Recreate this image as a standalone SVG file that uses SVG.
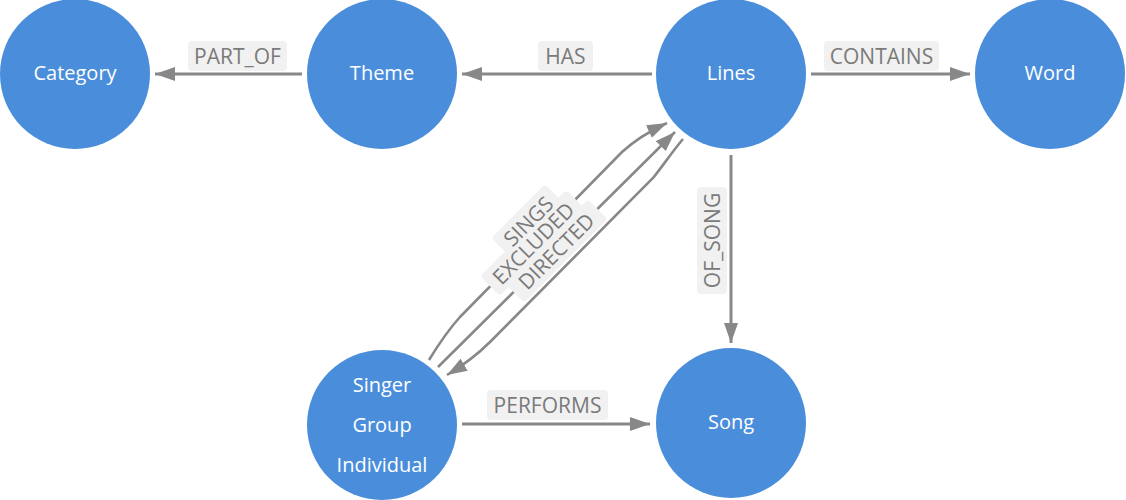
<svg xmlns="http://www.w3.org/2000/svg" width="1126" height="500" viewBox="0 0 1126 500">
<style>
.node{fill:#4a8edb}
.nt{font-family:"Open Sans","Liberation Sans",sans-serif;font-size:20px;fill:#ffffff;text-anchor:middle;dominant-baseline:central}
.edge{fill:none;stroke:#888888;stroke-width:3}
.dedge{fill:none;stroke:#888888;stroke-width:2.6}
.lb{fill:#f1f1f1}
.lt{font-family:"Open Sans","Liberation Sans",sans-serif;font-size:21px;fill:#7a7a7a;text-anchor:middle;dominant-baseline:central}
</style>
<defs>
<marker id="arr" markerUnits="userSpaceOnUse" markerWidth="20" markerHeight="14" refX="20" refY="7" orient="auto" viewBox="0 0 20 14">
<path d="M0,0 L20,7 L0,14 z" fill="#888888"/>
</marker>
</defs>
<rect width="1126" height="500" fill="#ffffff"/>
<g id="connectors">
<g id="e-part-of">
<path class="edge" d="M302,74 L155,74" marker-end="url(#arr)"/>
<rect class="lb" x="188" y="41" width="99" height="30" rx="4"/>
<text class="lt" x="237.5" y="55.5">PART_OF</text>
</g>
<g id="e-has">
<path class="edge" d="M652,74 L462,74" marker-end="url(#arr)"/>
<rect class="lb" x="538" y="41" width="55" height="30" rx="4"/>
<text class="lt" x="565.5" y="55.5">HAS</text>
</g>
<g id="e-contains">
<path class="edge" d="M811,74 L970,74" marker-end="url(#arr)"/>
<rect class="lb" x="824" y="41" width="115" height="30" rx="4"/>
<text class="lt" x="881.5" y="55.5">CONTAINS</text>
</g>
<g id="e-of-song">
<path class="edge" d="M731,155 L731,343" marker-end="url(#arr)"/>
<rect class="lb" x="697" y="187" width="30" height="107" rx="4"/>
<text class="lt" transform="translate(711.5,240.5) rotate(-90)">OF_SONG</text>
</g>
<g id="e-performs">
<path class="edge" d="M462,424 L650,424" marker-end="url(#arr)"/>
<rect class="lb" x="487" y="390" width="121" height="30" rx="4"/>
<text class="lt" x="547.5" y="404.5">PERFORMS</text>
</g>
<g id="e-sings">
<path class="dedge" d="M429,360 C440,342 450,328 460,317 L622,152 C635,140 650,131 667,123" marker-end="url(#arr)"/>
</g>
<g id="e-excluded">
<path class="dedge" d="M438,367 L675,132" marker-end="url(#arr)"/>
</g>
<g id="e-directed">
<path class="dedge" d="M683,139 C672,152 662,167 653,178 L490,342 C478,354 462,366 447,375" marker-end="url(#arr)"/>
</g>
<g id="diag-labels">
<g transform="translate(528,221) rotate(-45)">
<rect class="lb" x="-38" y="-14" width="76" height="28" rx="4"/>
</g>
<g transform="translate(533,243) rotate(-45)">
<rect class="lb" x="-61" y="-14" width="122" height="28" rx="4"/>
</g>
<g transform="translate(556,251) rotate(-45)">
<rect class="lb" x="-59" y="-14" width="118" height="28" rx="4"/>
</g>
<text class="lt" transform="translate(528,221) rotate(-45)">SINGS</text>
<text class="lt" transform="translate(533,243) rotate(-45)">EXCLUDED</text>
<text class="lt" transform="translate(556,251) rotate(-45)">DIRECTED</text>
</g>
</g>
<g id="n-category"><circle class="node" cx="75" cy="74" r="75"/><text class="nt" x="75" y="72.5">Category</text></g>
<g id="n-theme"><circle class="node" cx="382" cy="74" r="75"/><text class="nt" x="382" y="72.5">Theme</text></g>
<g id="n-lines"><circle class="node" cx="731" cy="74" r="75"/><text class="nt" x="731" y="72.5">Lines</text></g>
<g id="n-word"><circle class="node" cx="1050" cy="74" r="75"/><text class="nt" x="1050" y="72.5">Word</text></g>
<g id="n-singer"><circle class="node" cx="382" cy="425" r="75"/>
<text class="nt" x="382" y="384">Singer</text>
<text class="nt" x="382" y="424">Group</text>
<text class="nt" x="382" y="464">Individual</text></g>
<g id="n-song"><circle class="node" cx="731" cy="423" r="75"/><text class="nt" x="731" y="421.5">Song</text></g>
</svg>
